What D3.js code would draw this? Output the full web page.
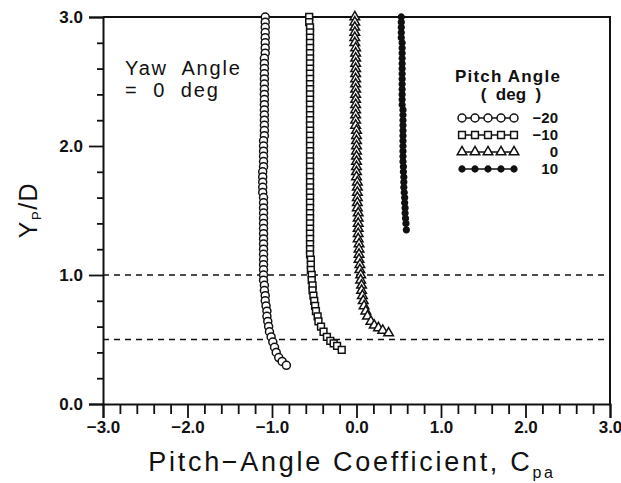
<!DOCTYPE html>
<html>
<head>
<meta charset="utf-8">
<script src="https://cdn.jsdelivr.net/npm/d3@7/dist/d3.min.js"></script>
<style>
  html, body { margin: 0; padding: 0; background: #fff; }
  svg { display: block; }
  text { font-family: "Liberation Sans", Arial, sans-serif; fill: #111; }
</style>
</head>
<body>
<svg id="chart" width="621" height="483"></svg>
<script>
// Pitch-angle coefficient profiles, [Cpa, Yp/D] pairs, one array per pitch angle
const pitchM20 = [
  [-1.08,3.00],[-1.08,2.96],[-1.08,2.92],[-1.08,2.88],[-1.08,2.84],[-1.08,2.80],[-1.08,2.76],
  [-1.08,2.72],[-1.09,2.68],[-1.09,2.64],[-1.09,2.60],[-1.09,2.56],[-1.09,2.52],[-1.09,2.48],
  [-1.09,2.44],[-1.09,2.40],[-1.09,2.36],[-1.09,2.32],[-1.09,2.28],[-1.09,2.24],[-1.09,2.20],
  [-1.09,2.16],[-1.09,2.12],[-1.09,2.08],[-1.10,2.04],[-1.10,2.00],[-1.10,1.96],[-1.10,1.92],
  [-1.10,1.88],[-1.10,1.84],[-1.11,1.80],[-1.11,1.76],[-1.11,1.72],[-1.11,1.68],[-1.11,1.64],
  [-1.10,1.60],[-1.10,1.56],[-1.10,1.52],[-1.10,1.48],[-1.10,1.44],[-1.10,1.40],[-1.10,1.36],
  [-1.10,1.32],[-1.10,1.28],[-1.10,1.24],[-1.10,1.20],[-1.10,1.16],[-1.10,1.12],[-1.10,1.08],
  [-1.10,1.04],[-1.10,1.00],[-1.10,0.96],[-1.09,0.92],[-1.09,0.88],[-1.08,0.84],[-1.08,0.80],
  [-1.07,0.76],[-1.06,0.72],[-1.06,0.68],[-1.05,0.64],[-1.04,0.60],[-1.03,0.56],[-1.01,0.52],
  [-0.99,0.48],[-0.97,0.44],[-0.95,0.40],[-0.92,0.36],[-0.88,0.33],[-0.83,0.30]
];
const pitchM10 = [
  [-0.56,3.00],[-0.56,2.96],[-0.55,2.92],[-0.55,2.88],[-0.55,2.84],[-0.55,2.80],[-0.55,2.76],
  [-0.55,2.72],[-0.55,2.68],[-0.55,2.64],[-0.55,2.60],[-0.55,2.56],[-0.55,2.52],[-0.55,2.48],
  [-0.55,2.44],[-0.55,2.40],[-0.55,2.36],[-0.55,2.32],[-0.55,2.28],[-0.55,2.24],[-0.55,2.20],
  [-0.55,2.16],[-0.55,2.12],[-0.55,2.08],[-0.55,2.04],[-0.55,2.00],[-0.55,1.96],[-0.55,1.92],
  [-0.55,1.88],[-0.55,1.84],[-0.55,1.80],[-0.55,1.76],[-0.55,1.72],[-0.55,1.68],[-0.55,1.64],
  [-0.55,1.60],[-0.55,1.56],[-0.55,1.52],[-0.55,1.48],[-0.55,1.44],[-0.55,1.40],[-0.55,1.36],
  [-0.55,1.32],[-0.55,1.28],[-0.55,1.24],[-0.55,1.20],[-0.55,1.16],[-0.54,1.12],[-0.54,1.08],
  [-0.54,1.04],[-0.53,1.00],[-0.53,0.96],[-0.52,0.92],[-0.52,0.88],[-0.51,0.84],[-0.50,0.80],
  [-0.49,0.76],[-0.48,0.72],[-0.46,0.68],[-0.45,0.64],[-0.42,0.60],[-0.39,0.56],[-0.35,0.52],
  [-0.31,0.49],[-0.27,0.47],[-0.23,0.45],[-0.175,0.42]
];
const pitch0 = [
  [-0.02,3.00],[-0.02,2.96],[-0.02,2.92],[-0.02,2.88],[-0.02,2.84],[-0.02,2.80],[-0.01,2.76],
  [-0.01,2.72],[-0.01,2.68],[-0.01,2.64],[-0.01,2.60],[-0.01,2.56],[-0.01,2.52],[-0.01,2.48],
  [-0.01,2.44],[-0.01,2.40],[-0.01,2.36],[-0.01,2.32],[-0.01,2.28],[-0.01,2.24],[-0.01,2.20],
  [-0.01,2.16],[0.00,2.12],[0.00,2.08],[0.00,2.04],[0.00,2.00],[0.00,1.96],[0.00,1.92],
  [0.00,1.88],[0.00,1.84],[0.00,1.80],[0.00,1.76],[0.01,1.72],[0.01,1.68],[0.01,1.64],
  [0.01,1.60],[0.01,1.56],[0.01,1.52],[0.02,1.48],[0.02,1.44],[0.02,1.40],[0.02,1.36],
  [0.02,1.32],[0.02,1.28],[0.03,1.24],[0.03,1.20],[0.03,1.16],[0.03,1.12],[0.04,1.08],
  [0.04,1.04],[0.05,1.00],[0.05,0.96],[0.06,0.92],[0.06,0.88],[0.07,0.84],[0.08,0.80],
  [0.09,0.76],[0.11,0.72],[0.13,0.68],[0.17,0.64],[0.21,0.61],[0.26,0.59],[0.31,0.57],
  [0.38,0.55]
];
const pitchP10 = [
  [0.53,3.00],[0.53,2.96],[0.53,2.92],[0.53,2.88],[0.53,2.84],[0.54,2.80],[0.54,2.76],
  [0.54,2.72],[0.54,2.68],[0.54,2.64],[0.54,2.60],[0.54,2.56],[0.54,2.52],[0.54,2.48],
  [0.54,2.44],[0.54,2.40],[0.54,2.36],[0.54,2.32],[0.55,2.28],[0.55,2.24],[0.55,2.20],
  [0.55,2.16],[0.55,2.12],[0.55,2.08],[0.55,2.04],[0.55,2.00],[0.55,1.96],[0.55,1.92],
  [0.55,1.88],[0.555,1.84],[0.555,1.80],[0.56,1.76],[0.56,1.72],[0.56,1.68],[0.565,1.64],
  [0.57,1.60],[0.57,1.56],[0.575,1.52],[0.575,1.48],[0.58,1.44],[0.585,1.40],[0.59,1.35]
];

const legendLabels = ["\u221220", "\u221210", "0", "10"];
const xTickValues = [-3, -2, -1, 0, 1, 2, 3];
const xTickLabels = ["\u22123.0", "\u22122.0", "\u22121.0", "0.0", "1.0", "2.0", "3.0"];
const yTickValues = [0, 1, 2, 3];
const yTickLabels = ["0.0", "1.0", "2.0", "3.0"];
const minorStep = [0.2, 0.4, 0.6, 0.8];
const referenceLines = [1.0, 0.5];

const svg = d3.select("#chart");
const margin = { left: 103, right: 11, top: 17, bottom: 79 };
const W = 621, H = 483;

const x = d3.scaleLinear().domain([-3, 3]).range([margin.left, W - margin.right]);
const y = d3.scaleLinear().domain([0, 3]).range([H - margin.bottom, margin.top]);

// minor tick positions between the labelled ticks
const xMinor = [];
xTickValues.slice(0, -1).forEach(v => minorStep.forEach(s => xMinor.push(+(v + s).toFixed(2))));
const yMinor = [];
yTickValues.slice(0, -1).forEach(v => minorStep.forEach(s => yMinor.push(+(v + s).toFixed(2))));

const ink = "#111";

// axes
const gx = svg.append("g").attr("transform", `translate(0,${y(0)})`);
gx.call(d3.axisBottom(x).tickValues(xMinor).tickSize(10).tickFormat(""));
gx.call(g => g.select(".domain").remove());
const gx2 = svg.append("g").attr("transform", `translate(0,${y(0)})`);
gx2.call(d3.axisBottom(x).tickValues(xTickValues).tickSize(14)
  .tickFormat((d, i) => xTickLabels[i]).tickPadding(2));
gx2.selectAll("text").attr("font-size", 17).attr("font-weight", "bold")
  .attr("fill", ink).attr("dy", "0.75em");

const gy = svg.append("g").attr("transform", `translate(${x(-3)},0)`);
gy.call(d3.axisLeft(y).tickValues(yMinor).tickSize(6).tickFormat(""));
gy.call(g => g.select(".domain").remove());
const gy2 = svg.append("g").attr("transform", `translate(${x(-3)},0)`);
gy2.call(d3.axisLeft(y).tickValues(yTickValues).tickSize(14)
  .tickFormat((d, i) => yTickLabels[i]).tickPadding(6));
gy2.selectAll("text").attr("font-size", 17).attr("font-weight", "bold").attr("fill", ink);

svg.selectAll(".tick line, .domain").attr("stroke", ink).attr("stroke-width", 1.8);
svg.selectAll(".domain").attr("stroke-width", 2);

// top and right frame
svg.append("line").attr("x1", x(-3)).attr("x2", x(3)).attr("y1", y(3)).attr("y2", y(3))
  .attr("stroke", ink).attr("stroke-width", 2);
svg.append("line").attr("x1", x(3)).attr("x2", x(3)).attr("y1", y(3) - 1).attr("y2", y(0))
  .attr("stroke", ink).attr("stroke-width", 2);

// dashed reference lines
svg.selectAll(".ref").data(referenceLines).enter().append("line")
  .attr("x1", x(-3)).attr("x2", x(3))
  .attr("y1", d => y(d)).attr("y2", d => y(d))
  .attr("stroke", ink).attr("stroke-width", 1.6).attr("stroke-dasharray", "6,5");

// marker shapes
const markerSym = {
  circle: d3.symbol().type(d3.symbolCircle).size(50),
  square: d3.symbol().type(d3.symbolSquare).size(46),
  triangle: d3.symbol().type(d3.symbolTriangle).size(40),
  dot: d3.symbol().type(d3.symbolCircle).size(26)
};
const series = [
  { data: pitchM20, shape: "circle", fill: "#fff" },
  { data: pitchM10, shape: "square", fill: "#fff" },
  { data: pitch0, shape: "triangle", fill: "#fff" },
  { data: pitchP10, shape: "dot", fill: ink }
];

const line = d3.line().x(d => x(d[0])).y(d => y(d[1]));
series.forEach(s => {
  const g = svg.append("g");
  g.append("path").attr("d", line(s.data)).attr("fill", "none")
    .attr("stroke", ink).attr("stroke-width", 1.5);
  g.selectAll("path.m").data(s.data).enter().append("path").attr("class", "m")
    .attr("d", markerSym[s.shape])
    .attr("transform", d => `translate(${x(d[0])},${y(d[1])})`)
    .attr("fill", s.fill).attr("stroke", ink).attr("stroke-width", 1.5);
});

// annotation
svg.append("text").attr("x", 125).attr("y", 75).attr("font-size", 20)
  .attr("letter-spacing", 1.8).attr("xml:space", "preserve").text("Yaw  Angle");
svg.append("text").attr("x", 125).attr("y", 97).attr("font-size", 20)
  .attr("letter-spacing", 1.8).attr("xml:space", "preserve").text("=  0  deg");

// legend
const lg = svg.append("g");
lg.append("text").attr("x", 508).attr("y", 82).attr("text-anchor", "middle")
  .attr("font-size", 17).attr("font-weight", "bold").attr("letter-spacing", 1.2).text("Pitch Angle");
lg.append("text").attr("x", 511).attr("y", 100).attr("text-anchor", "middle")
  .attr("font-size", 17).attr("font-weight", "bold").attr("xml:space", "preserve").text("(  deg  )");
const rowY = [118, 135, 152, 169];
const swatchX = [462, 475, 488, 501, 514];
series.forEach((s, i) => {
  const ry = rowY[i];
  lg.append("line").attr("x1", swatchX[0]).attr("x2", swatchX[4]).attr("y1", ry).attr("y2", ry)
    .attr("stroke", ink).attr("stroke-width", 1.5);
  lg.selectAll(null).data(swatchX).enter().append("path")
    .attr("d", markerSym[s.shape])
    .attr("transform", d => `translate(${d},${ry})`)
    .attr("fill", s.fill).attr("stroke", ink).attr("stroke-width", 1.5);
  lg.append("text").attr("x", 558).attr("y", ry + 5).attr("text-anchor", "end")
    .attr("font-size", 15).attr("font-weight", "bold").text(legendLabels[i]);
});

// axis titles
const xt = svg.append("text").attr("x", 352).attr("y", 471).attr("text-anchor", "middle")
  .attr("font-size", 27).attr("letter-spacing", 2.7);
xt.append("tspan").text("Pitch\u2212Angle Coefficient, C");
xt.append("tspan").attr("font-size", 16).attr("dy", 7).text("pa");

const yt = svg.append("text").attr("transform", "translate(37,210) rotate(-90)")
  .attr("text-anchor", "middle").attr("font-size", 25).attr("letter-spacing", 1.5);
yt.append("tspan").text("Y");
yt.append("tspan").attr("font-size", 13).attr("dy", 4).text("P");
yt.append("tspan").attr("dy", -4).text("/D");
</script>
</body>
</html>
